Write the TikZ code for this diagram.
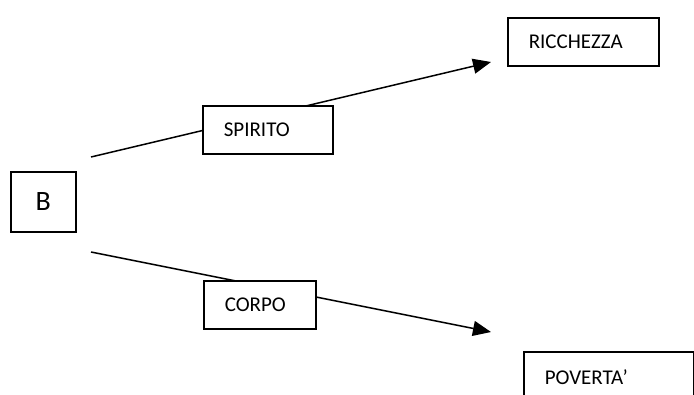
\documentclass[tikz,border=0pt]{standalone}
\usepackage{fontspec}
\setmainfont{Carlito}
\usetikzlibrary{arrows.meta}
\begin{document}
\begin{tikzpicture}[x=1pt,y=-1pt,
  box/.style={draw, line width=1.6pt, fill=white, anchor=north west,
    inner xsep=21pt, inner ysep=0pt, align=left,
    font=\fontsize{21}{25}\selectfont},
  link/.style={line width=1.5pt, -{Triangle[length=18pt,width=15pt]}}]
\useasboundingbox (0,0) rectangle (694,394);
\clip (0,0) rectangle (694,394);
% free ends of the two connectors
\coordinate (s1) at (91,157);
\coordinate (t1) at (491,62);
\coordinate (s2) at (91,252);
\coordinate (t2) at (491,332);
\draw[link] (s1) -- (t1);
\draw[link] (s2) -- (t2);
% boxes
\node[draw, line width=1.6pt, fill=white, anchor=north west,
  minimum width=65pt, minimum height=60pt, inner sep=0pt,
  font=\fontsize{28}{33}\selectfont] (b) at (10,171) {B};
\node[box, text width=88pt, minimum height=48pt] (spirito) at (202,105) {SPIRITO};
\node[box, text width=70pt, minimum height=48pt] (corpo) at (203,280) {CORPO};
\node[box, text width=109pt, minimum height=48pt] (ricchezza) at (507,17) {RICCHEZZA};
\node[box, text width=128pt, minimum height=50pt] (poverta) at (523,351) {POVERTA’};
\end{tikzpicture}
\end{document}
